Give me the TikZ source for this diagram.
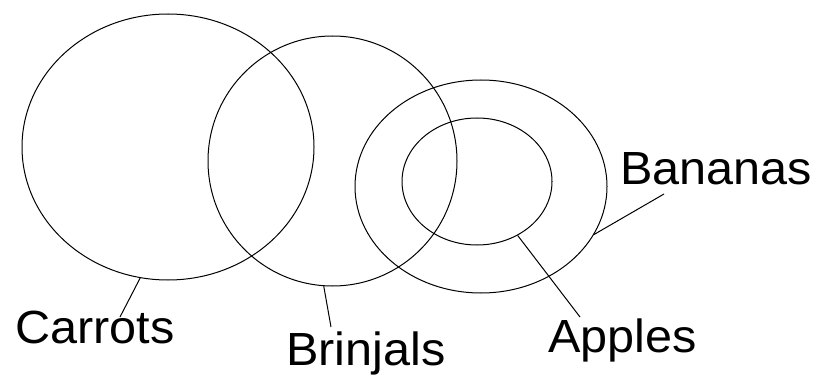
\documentclass[tikz,border=0pt]{standalone}
\usepackage{fontspec}
\setmainfont{Liberation Sans}[FakeStretch=1.045]
\usetikzlibrary{shapes.geometric}
\begin{document}
\begin{tikzpicture}[x=1pt,y=-1pt,
  setshape/.style={draw=black, line width=1pt, ellipse, inner sep=0pt},
  lbl/.style={anchor=base west, inner sep=0pt, font=\fontsize{46.5}{50}\selectfont},
  leader/.style={draw=black, line width=1pt}]
\useasboundingbox (0,0) rectangle (819,382);
\node[setshape, minimum width=292pt, minimum height=266pt] (carrots) at (168,147) {};
\node[setshape, minimum width=249pt, minimum height=250pt] (brinjals) at (332.5,161) {};
\node[setshape, minimum width=252pt, minimum height=213pt] (bananas) at (481,186.5) {};
\node[setshape, minimum width=150pt, minimum height=127pt] (apples) at (477,181.5) {};
\node[lbl] (tcarrots) at (15,343) {Carrots};
\node[lbl] (tbrinjals) at (286,365) {Brinjals};
\node[lbl] (tapples) at (548,352) {Apples};
\node[lbl] (tbananas) at (620,185) {Bananas};
\coordinate (ecarrots) at (120,317);
\coordinate (ebrinjals) at (331,327);
\coordinate (eapples) at (580,317);
\coordinate (ebananas) at (664,194);
\draw[leader] (carrots.258.4) -- (ecarrots);
\draw[leader] (brinjals.266.5) -- (ebrinjals);
\draw[leader] (apples.307.8) -- (eapples);
\draw[leader] (bananas.337) -- (ebananas);
\end{tikzpicture}
\end{document}
